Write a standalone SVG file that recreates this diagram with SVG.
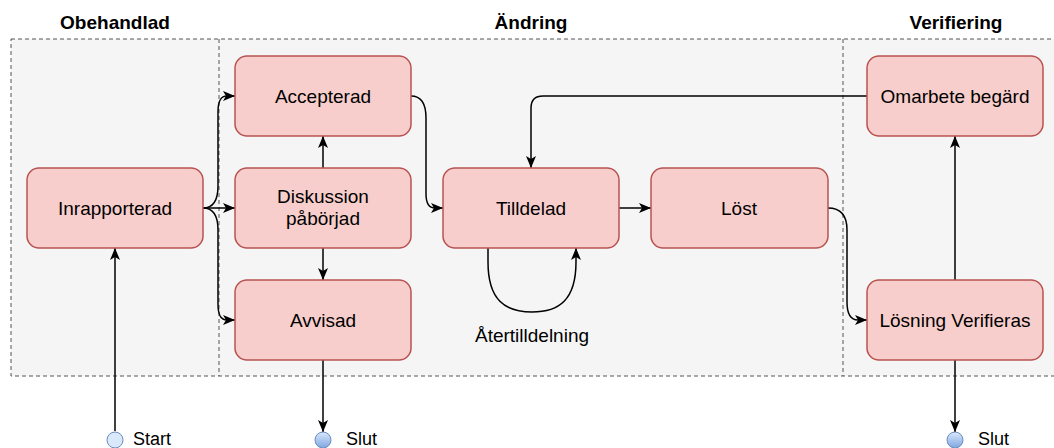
<svg xmlns="http://www.w3.org/2000/svg" width="1054" height="448" viewBox="0 0 1054 448">
  <defs>
    <style>
      .lane { fill: #f5f5f5; stroke: #555555; stroke-width: 1; stroke-dasharray: 4 3; }
      .divider { fill: none; stroke: #555555; stroke-width: 1; stroke-dasharray: 4 3; }
      .state { fill: #f8cecc; stroke: #b85450; stroke-width: 1.5; }
      .label { font-family: "Liberation Sans", Arial, sans-serif; font-size: 19px; fill: #000000; text-anchor: middle; }
      .title { font-family: "Liberation Sans", Arial, sans-serif; font-size: 19px; font-weight: bold; fill: #000000; text-anchor: middle; }
      .term { font-family: "Liberation Sans", Arial, sans-serif; font-size: 18px; fill: #000000; }
      .edge { fill: none; stroke: #000000; stroke-width: 1.5; marker-end: url(#arrow); }
    </style>
    <marker id="arrow" viewBox="0 0 12 10" refX="12" refY="5" markerWidth="12" markerHeight="10" markerUnits="userSpaceOnUse" orient="auto">
      <path d="M0,0 L12,5 L0,10 L3,5 Z" fill="#000000"/>
    </marker>
    <linearGradient id="endFill" x1="0" y1="0" x2="0" y2="1">
      <stop offset="0" stop-color="#dae8fc"/>
      <stop offset="1" stop-color="#7ea6e0"/>
    </linearGradient>
  </defs>

  <!-- swimlane container -->
  <g id="lanes">
    <rect class="lane" x="11" y="39" width="1050" height="337"/>
    <line class="divider" x1="219" y1="39" x2="219" y2="376"/>
    <line class="divider" x1="843" y1="39" x2="843" y2="376"/>
    <text class="title" x="115" y="29">Obehandlad</text>
    <text class="title" x="531" y="29">Ändring</text>
    <text class="title" x="956" y="29">Verifiering</text>
  </g>

  <!-- connectors -->
  <g id="connectors">
    <path class="edge" d="M115,431 L115,248"/>
    <path class="edge" d="M203,208 C214,208 218,200 218,186 L218,112 C218,100 221,96 227,96 L235,96"/>
    <path class="edge" d="M203,208 L235,208"/>
    <path class="edge" d="M203,208 C214,208 218,216 218,230 L218,304 C218,316 221,320 227,320 L235,320"/>
    <path class="edge" d="M323,168 L323,136"/>
    <path class="edge" d="M323,248 L323,280"/>
    <path class="edge" d="M323,360 L323,432"/>
    <path class="edge" d="M411,96 C422,96 426,104 426,118 L426,194 C426,204 429,208 435,208 L443,208"/>
    <path class="edge" d="M619,208 L651,208"/>
    <path class="edge" d="M488,248 L488,262 C488,300 505,312 532,312 C559,312 576,300 576,262 L576,248"/>
    <path class="edge" d="M828,208 C840,208 847,214 847,230 L847,302 C847,315 851,320 858,320 L867,320"/>
    <path class="edge" d="M955,280 L955,136"/>
    <path class="edge" d="M955,360 L955,432"/>
    <path class="edge" d="M867,96 L543,96 Q531,96 531,108 L531,168"/>
    <text class="label" x="532" y="342">Återtilldelning</text>
  </g>

  <!-- states -->
  <g id="start">
    <circle cx="115" cy="440" r="8" fill="#dae8fc" stroke="#6c8ebf" stroke-width="1"/>
    <text class="term" x="133" y="445">Start</text>
  </g>
  <g id="inrapporterad">
    <rect class="state" x="27" y="168" width="176" height="80" rx="12"/>
    <text class="label" x="115" y="215">Inrapporterad</text>
  </g>
  <g id="accepterad">
    <rect class="state" x="235" y="56" width="176" height="80" rx="12"/>
    <text class="label" x="323" y="103">Accepterad</text>
  </g>
  <g id="diskussion">
    <rect class="state" x="235" y="168" width="176" height="80" rx="12"/>
    <text class="label" x="323" y="203">Diskussion</text>
    <text class="label" x="323" y="225">påbörjad</text>
  </g>
  <g id="avvisad">
    <rect class="state" x="235" y="280" width="176" height="80" rx="12"/>
    <text class="label" x="323" y="327">Avvisad</text>
  </g>
  <g id="slut1">
    <circle cx="323" cy="440" r="8" fill="url(#endFill)" stroke="#6c8ebf" stroke-width="1"/>
    <text class="term" x="346" y="445">Slut</text>
  </g>
  <g id="tilldelad">
    <rect class="state" x="443" y="168" width="176" height="80" rx="12"/>
    <text class="label" x="531" y="215">Tilldelad</text>
  </g>
  <g id="lost">
    <rect class="state" x="651" y="168" width="177" height="80" rx="12"/>
    <text class="label" x="739" y="215">Löst</text>
  </g>
  <g id="omarbete">
    <rect class="state" x="867" y="56" width="176" height="80" rx="12"/>
    <text class="label" x="955" y="103">Omarbete begärd</text>
  </g>
  <g id="verifieras">
    <rect class="state" x="867" y="280" width="176" height="80" rx="12"/>
    <text class="label" x="955" y="327">Lösning Verifieras</text>
  </g>
  <g id="slut2">
    <circle cx="955" cy="440" r="8" fill="url(#endFill)" stroke="#6c8ebf" stroke-width="1"/>
    <text class="term" x="978" y="445">Slut</text>
  </g>
</svg>
